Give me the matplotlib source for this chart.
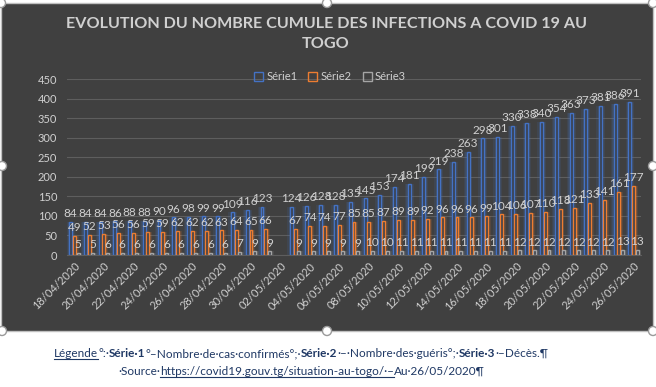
import numpy as np
import pandas as pd
import matplotlib
matplotlib.use("Agg")
import matplotlib.pyplot as plt
import matplotlib.dates as mdates
from matplotlib.patches import Patch, Rectangle, Circle
from matplotlib.lines import Line2D
from matplotlib.transforms import IdentityTransform

plt.rcParams['font.family'] = ['Lato', 'DejaVu Sans']

dates = [
    "18/04/2020", "19/04/2020", "20/04/2020", "21/04/2020", "22/04/2020",
    "23/04/2020", "24/04/2020", "25/04/2020", "26/04/2020", "27/04/2020",
    "28/04/2020", "29/04/2020", "30/04/2020", "01/05/2020",
    "03/05/2020", "04/05/2020", "05/05/2020", "06/05/2020", "07/05/2020",
    "08/05/2020", "09/05/2020", "10/05/2020", "11/05/2020", "12/05/2020",
    "13/05/2020", "14/05/2020", "15/05/2020", "16/05/2020", "17/05/2020",
    "18/05/2020", "19/05/2020", "20/05/2020", "21/05/2020", "22/05/2020",
    "23/05/2020", "24/05/2020", "25/05/2020", "26/05/2020",
]
serie1 = [84, 84, 84, 86, 88, 88, 90, 96, 98, 99, 99, 109, 116, 123,
          124, 126, 128, 128, 135, 145, 153, 174, 181, 199, 219, 238, 263,
          298, 301, 330, 338, 340, 354, 363, 373, 381, 386, 391]
serie2 = [49, 52, 53, 56, 56, 59, 59, 62, 62, 62, 63, 64, 65, 66,
          67, 74, 74, 77, 85, 85, 87, 89, 89, 92, 96, 96, 96,
          99, 104, 106, 107, 110, 118, 121, 133, 141, 161, 177]
serie3 = [5, 5, 6, 6, 6, 6, 6, 6, 6, 6, 6, 7, 9, 9,
          9, 9, 9, 9, 9, 10, 10, 11, 11, 11, 11, 11, 11,
          11, 11, 12, 12, 12, 12, 12, 12, 12, 13, 13]
series_names = ["Série1", "Série2", "Série3"]
yticks = list(range(0, 451, 50))

BG = "#404040"
COLORS = ["#4472C4", "#ED7D31", "#A5A5A5"]
TXT = "#D0D0D0"
NAVY = "#1F3864"

W, H = 656, 387
fig = plt.figure(figsize=(W / 100, H / 100), dpi=100)
fig.patch.set_facecolor("white")

# chart frame
fig.add_artist(Rectangle((1 / W, 1 - 331 / H), 652 / W, 328 / H,
                         transform=fig.transFigure, facecolor=BG,
                         edgecolor="#BFBFBF", lw=1, zorder=0))

ax = fig.add_axes([67 / W, 1 - 255 / H, 574 / W, 176 / H])
ax.set_facecolor("none")

x = mdates.date2num(pd.to_datetime(dates, format="%d/%m/%Y"))
values = [serie1, serie2, serie3]
offsets = [-0.25, 0.0, 0.25]
bw = 0.2

# glow behind the bars
for vals, off, c in zip(values, offsets, COLORS):
    for k, a in [(3.0, 0.12), (2.0, 0.16)]:
        ax.bar(x + off, vals, width=bw * k, color=c, alpha=a, lw=0, zorder=2)

for vals, off, c in zip(values, offsets, COLORS):
    ax.bar(x + off, vals, width=bw, facecolor="#3a3f4a", edgecolor=c,
           lw=1.0, zorder=3)
    for xi, v in zip(x, vals):
        ax.annotate(str(v), (xi + off, v), xytext=(0, 2),
                    textcoords="offset points", ha="center", va="bottom",
                    fontsize=8.5, color=TXT, zorder=4)

ax.set_xlim(x[0] - 0.5, x[-1] + 0.5)
ax.set_ylim(0, 450)
ax.set_yticks(yticks)
ax.yaxis.grid(True, color="#5E5E5E", lw=0.8)
ax.set_axisbelow(True)
for s in ["top", "right", "left"]:
    ax.spines[s].set_visible(False)
ax.spines["bottom"].set_color("#5E5E5E")
ax.xaxis.set_major_locator(mdates.DayLocator(bymonthday=range(2, 32, 2)))
ax.xaxis.set_major_formatter(mdates.DateFormatter("%d/%m/%Y"))
ax.tick_params(axis="y", length=0, pad=7, labelsize=8, labelcolor=TXT)
ax.tick_params(axis="x", length=0, pad=4, labelsize=8, labelcolor=TXT)
for lab in ax.get_xticklabels():
    lab.set_rotation(45)
    lab.set_ha("right")
    lab.set_rotation_mode("anchor")

fig.text(326 / W, 1 - 34 / H,
         "EVOLUTION DU NOMBRE CUMULE DES INFECTIONS A COVID 19 AU\nTOGO",
         ha="center", va="center", fontsize=11.6, fontweight="bold",
         color=TXT, linespacing=1.55)

handles = [Patch(facecolor="none", edgecolor=c, lw=1) for c in COLORS]
fig.legend(handles, series_names, loc="center",
           bbox_to_anchor=(330 / W, 1 - 77 / H), ncol=3, frameon=False,
           labelcolor=TXT, fontsize=8, handlelength=0.8, handleheight=0.8,
           handletextpad=0.3, columnspacing=1.0)

# selection handles of the embedded chart
for px, py in [(1, 3), (327, 3), (653, 3), (2, 166), (653, 166),
               (2, 331), (327, 331), (653, 331)]:
    fig.add_artist(Circle((px, H - py), 4.5, transform=IdentityTransform(),
                          facecolor="white", edgecolor="#9A9A9A", lw=1,
                          zorder=10))

# caption below the chart
renderer = fig.canvas.get_renderer()


def draw_runs(runs, x0, y0, size=8.5):
    xp = x0
    for txt, bold, underline in runs:
        t = fig.text(xp, H - y0, txt, transform=IdentityTransform(),
                     fontsize=size, color=NAVY, va="baseline",
                     fontweight="bold" if bold else "normal")
        w = t.get_window_extent(renderer).width
        if underline:
            fig.add_artist(Line2D([xp, xp + w], [H - y0 - 1.5] * 2,
                                  transform=IdentityTransform(),
                                  color=NAVY, lw=0.8))
        xp += w


line1 = [("Légende", False, True), ("°:·", False, False),
         ("Série·1", True, False), ("°–Nombre·de·cas·confirmés°;·", False, False),
         ("Série·2", True, False), ("·–·Nombre·des·guéris°;·", False, False),
         ("Série·3", True, False), ("·–Décès.¶", False, False)]
line2 = [("·Source·", False, False),
         ("https://covid19.gouv.tg/situation-au-togo/·–", False, True),
         ("Au·26/05/2020¶", False, False)]
draw_runs(line1, 54, 357)
draw_runs(line2, 118, 375)

fig.savefig("out.png", dpi=100, facecolor="white")
